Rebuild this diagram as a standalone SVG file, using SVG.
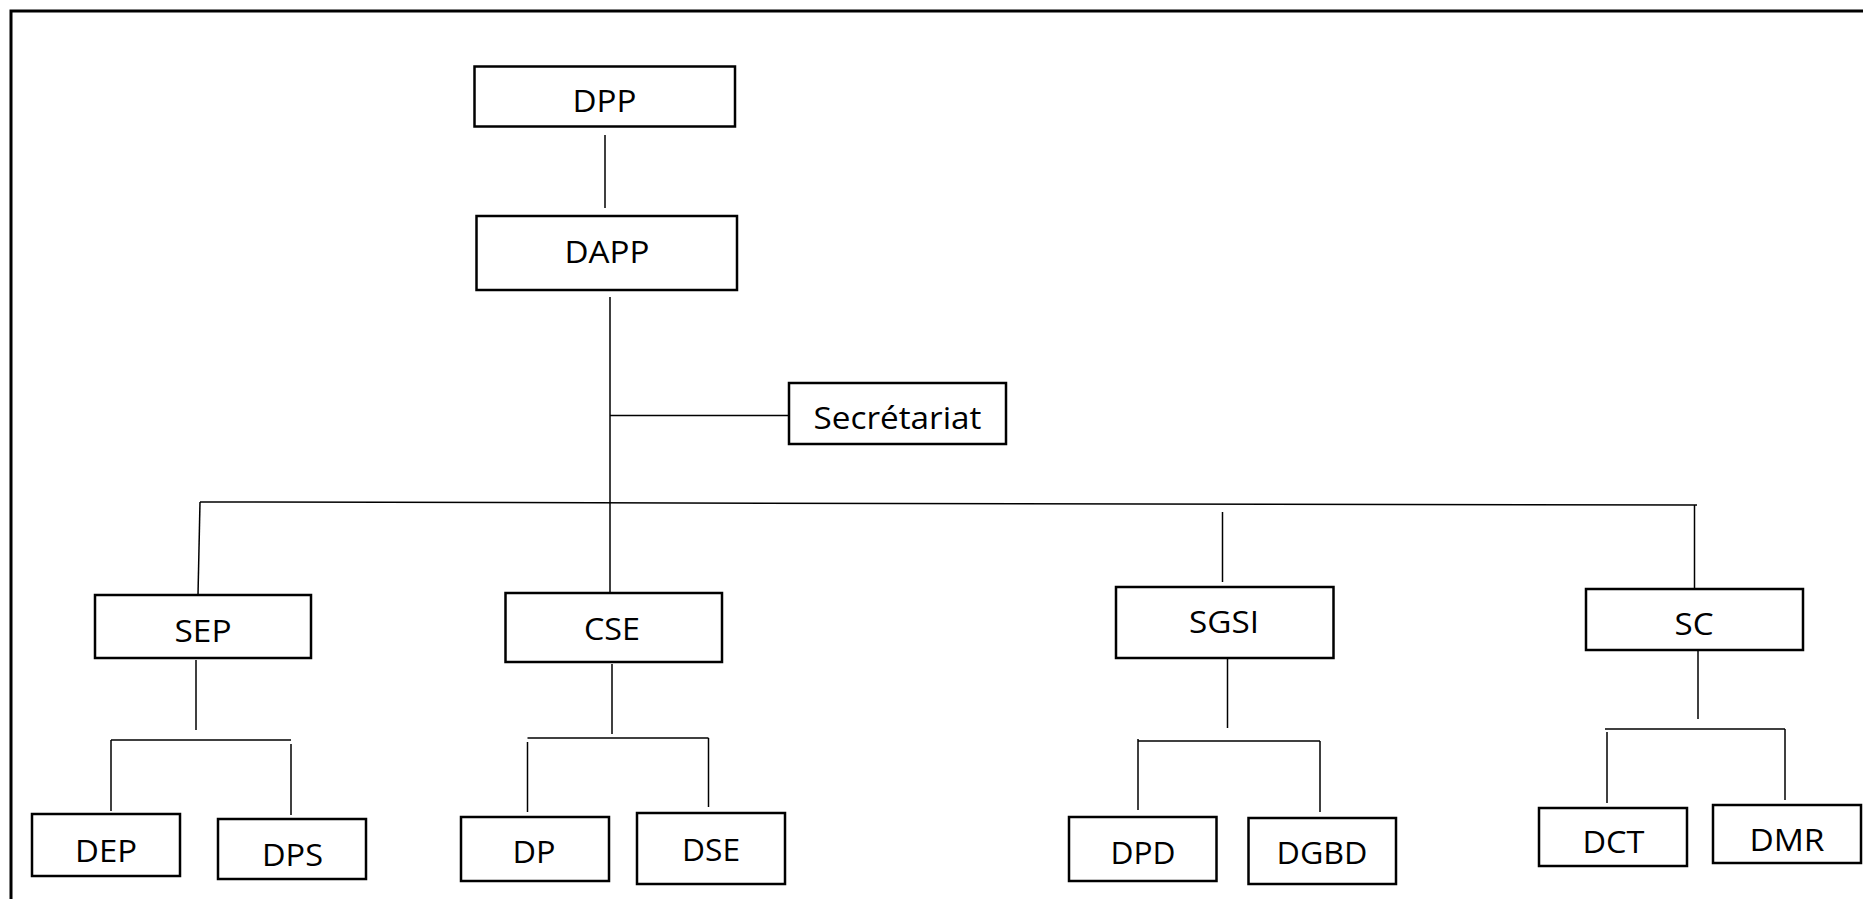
<svg xmlns="http://www.w3.org/2000/svg" width="1863" height="899" viewBox="0 0 1863 899">
<style>
.box{fill:#fff;stroke:#000;stroke-width:2.5}
.lbl{font-family:"Open Sans","Noto Sans","Liberation Sans",sans-serif;font-size:31px;fill:#000;text-anchor:middle}
.con{stroke:#000;stroke-width:1.5;fill:none}
.frame{stroke:#000;stroke-width:3;fill:none}
</style>
<rect width="1863" height="899" fill="#fff"/>
<path class="frame" d="M11,899 V11 H1863"/>
<g id="connectors">
<line class="con" x1="605" y1="135" x2="605" y2="208"/>
<line class="con" x1="610" y1="297" x2="610" y2="593"/>
<line class="con" x1="610" y1="415.5" x2="789" y2="415.5"/>
<line class="con" x1="200" y1="502" x2="1697" y2="505"/>
<line class="con" x1="200" y1="502" x2="198" y2="595"/>
<line class="con" x1="1222.5" y1="512" x2="1222.5" y2="582"/>
<line class="con" x1="1694.5" y1="505" x2="1694.5" y2="589"/>
<line class="con" x1="196" y1="660" x2="196" y2="730"/>
<line class="con" x1="111" y1="740" x2="291" y2="740"/>
<line class="con" x1="111" y1="740" x2="111" y2="811"/>
<line class="con" x1="291" y1="744" x2="291" y2="815"/>
<line class="con" x1="612" y1="664" x2="612" y2="734"/>
<line class="con" x1="527.5" y1="738" x2="708.5" y2="738"/>
<line class="con" x1="527.5" y1="742" x2="527.5" y2="812"/>
<line class="con" x1="708.5" y1="738" x2="708.5" y2="807"/>
<line class="con" x1="1227.5" y1="659" x2="1227.5" y2="728"/>
<line class="con" x1="1138" y1="741" x2="1320" y2="741"/>
<line class="con" x1="1138" y1="739" x2="1138" y2="810"/>
<line class="con" x1="1320" y1="741" x2="1320" y2="812"/>
<line class="con" x1="1698" y1="651" x2="1698" y2="719"/>
<line class="con" x1="1605" y1="729" x2="1785" y2="729"/>
<line class="con" x1="1607" y1="732" x2="1607" y2="803"/>
<line class="con" x1="1785" y1="729" x2="1785" y2="800"/>
</g>
<g id="DPP"><rect class="box" x="474.5" y="66.5" width="260.5" height="60"/><text class="lbl" x="604.5" y="112" textLength="64" lengthAdjust="spacingAndGlyphs">DPP</text></g>
<g id="DAPP"><rect class="box" x="476.5" y="216" width="260.5" height="74"/><text class="lbl" x="607" y="263" textLength="85" lengthAdjust="spacingAndGlyphs">DAPP</text></g>
<g id="Secretariat"><rect class="box" x="789" y="383" width="217" height="61"/><text class="lbl" x="897.5" y="429" textLength="168" lengthAdjust="spacingAndGlyphs">Secrétariat</text></g>
<g id="SEP"><rect class="box" x="95" y="595" width="216" height="63"/><text class="lbl" x="203" y="642" textLength="57" lengthAdjust="spacingAndGlyphs">SEP</text></g>
<g id="CSE"><rect class="box" x="505.5" y="593" width="216.5" height="69"/><text class="lbl" x="612" y="640" textLength="56" lengthAdjust="spacingAndGlyphs">CSE</text></g>
<g id="SGSI"><rect class="box" x="1116" y="587" width="217.5" height="71"/><text class="lbl" x="1224" y="633" textLength="70" lengthAdjust="spacingAndGlyphs">SGSI</text></g>
<g id="SC"><rect class="box" x="1586" y="589" width="217" height="61"/><text class="lbl" x="1694" y="635" textLength="39" lengthAdjust="spacingAndGlyphs">SC</text></g>
<g id="DEP"><rect class="box" x="32" y="814" width="148" height="62"/><text class="lbl" x="106" y="862" textLength="62" lengthAdjust="spacingAndGlyphs">DEP</text></g>
<g id="DPS"><rect class="box" x="218" y="819" width="148" height="60"/><text class="lbl" x="292.5" y="866" textLength="61" lengthAdjust="spacingAndGlyphs">DPS</text></g>
<g id="DP"><rect class="box" x="461" y="817" width="148" height="64"/><text class="lbl" x="534" y="863" textLength="43" lengthAdjust="spacingAndGlyphs">DP</text></g>
<g id="DSE"><rect class="box" x="637" y="813" width="148" height="71"/><text class="lbl" x="711" y="861" textLength="58" lengthAdjust="spacingAndGlyphs">DSE</text></g>
<g id="DPD"><rect class="box" x="1069" y="817" width="147.5" height="64"/><text class="lbl" x="1143" y="864" textLength="65" lengthAdjust="spacingAndGlyphs">DPD</text></g>
<g id="DGBD"><rect class="box" x="1248.5" y="818" width="147.5" height="66"/><text class="lbl" x="1322" y="864" textLength="91" lengthAdjust="spacingAndGlyphs">DGBD</text></g>
<g id="DCT"><rect class="box" x="1539" y="808" width="148" height="58"/><text class="lbl" x="1613.5" y="853" textLength="62" lengthAdjust="spacingAndGlyphs">DCT</text></g>
<g id="DMR"><rect class="box" x="1713" y="805" width="148" height="58"/><text class="lbl" x="1787" y="851" textLength="75" lengthAdjust="spacingAndGlyphs">DMR</text></g>
</svg>
